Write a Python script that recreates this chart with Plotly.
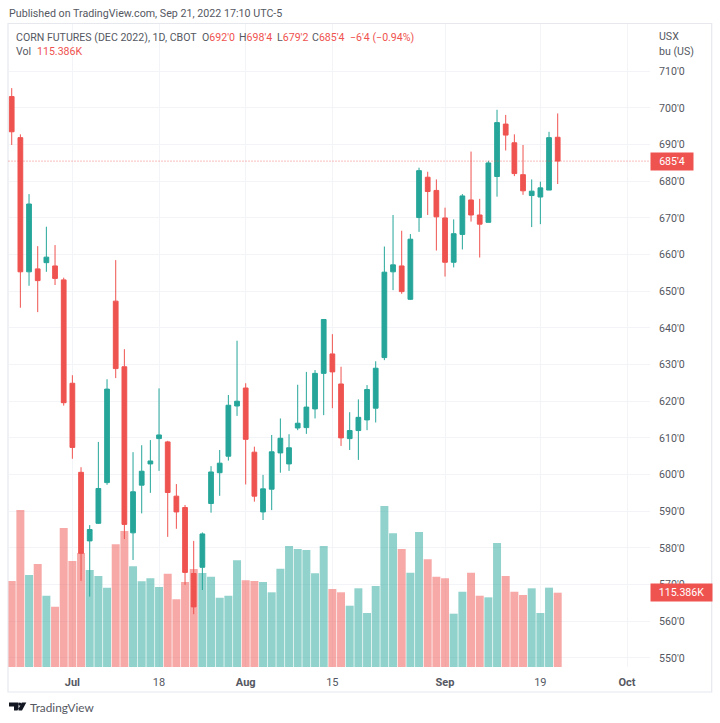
import plotly.graph_objects as go

W, H = 720, 723

trading_days = [
    "2022-06-22","2022-06-23","2022-06-24","2022-06-27","2022-06-28","2022-06-29","2022-06-30",
    "2022-07-01","2022-07-05","2022-07-06","2022-07-07","2022-07-08","2022-07-11","2022-07-12",
    "2022-07-13","2022-07-14","2022-07-15","2022-07-18","2022-07-19","2022-07-20","2022-07-21",
    "2022-07-22","2022-07-25","2022-07-26","2022-07-27","2022-07-28","2022-07-29","2022-08-01",
    "2022-08-02","2022-08-03","2022-08-04","2022-08-05","2022-08-08","2022-08-09","2022-08-10",
    "2022-08-11","2022-08-12","2022-08-15","2022-08-16","2022-08-17","2022-08-18","2022-08-19",
    "2022-08-22","2022-08-23","2022-08-24","2022-08-25","2022-08-26","2022-08-29","2022-08-30",
    "2022-08-31","2022-09-01","2022-09-02","2022-09-06","2022-09-07","2022-09-08","2022-09-09",
    "2022-09-12","2022-09-13","2022-09-14","2022-09-15","2022-09-16","2022-09-19","2022-09-20",
    "2022-09-21",
]
future_days = ["2022-09-22","2022-09-23","2022-09-26","2022-09-27","2022-09-28","2022-09-29",
               "2022-09-30","2022-10-03","2022-10-04","2022-10-05","2022-10-06"]

opens = [703.1,691.9,655.3,656.1,657.8,656.9,653.1,624.9,600.6,581.9,586.7,597.8,647.3,629.4,
         584.1,597.1,602.9,609.8,608.9,594.1,591.0,573.0,574.7,592.1,600.5,605.0,618.7,623.6,
         606.1,589.8,596.0,605.9,602.9,612.7,612.8,617.9,627.6,632.9,624.7,609.8,612.0,614.9,
         618.1,631.9,655.3,656.9,647.8,670.1,681.1,677.5,670.0,657.9,665.5,674.9,670.8,668.8,
         681.3,695.6,690.5,681.8,676.1,675.7,677.6,692.0]
highs = [705.4,692.8,676.5,662.3,667.6,662.6,653.7,627.1,602.0,586.2,608.9,626.0,658.5,634.2,
         606.1,608.0,609.4,623.5,609.2,597.4,591.7,581.9,584.2,602.3,606.7,621.7,636.5,624.9,
         607.6,599.9,610.8,615.3,611.0,624.5,628.0,628.5,642.4,638.3,629.4,617.0,620.5,624.4,
         630.9,662.2,670.8,666.5,665.6,683.7,682.6,680.5,672.8,669.6,676.5,688.1,675.2,685.6,
         699.5,698.1,692.8,689.9,680.5,679.9,693.5,698.5]
lows = [689.9,645.5,651.5,644.3,655.3,651.7,618.8,604.3,571.0,566.7,586.5,597.2,626.3,582.4,
        576.7,589.4,595.0,601.0,583.0,585.2,569.9,561.9,568.5,589.6,594.2,603.8,616.0,597.3,
        592.6,587.6,590.3,600.5,601.0,612.1,611.1,615.3,616.2,618.1,607.8,606.7,604.0,612.1,
        614.2,631.2,650.3,649.3,647.6,666.2,670.8,661.1,654.0,656.5,661.4,669.0,659.2,668.8,
        675.8,688.4,681.4,676.3,667.5,668.3,677.6,679.25]
closes = [693.5,655.3,673.8,652.9,659.3,653.5,619.6,607.4,578.5,585.0,596.2,623.3,628.9,586.4,
          595.3,600.9,603.7,610.8,595.1,589.8,573.3,563.9,583.8,600.7,603.1,618.9,620.0,609.6,
          594.1,596.1,606.2,609.9,607.3,614.0,618.4,627.6,642.3,628.0,610.0,612.0,615.6,623.2,
          629.0,655.2,657.2,649.9,664.2,682.9,677.2,670.3,657.9,665.7,676.0,670.8,668.3,685.0,
          696.0,692.6,682.1,677.4,677.3,678.2,691.9,685.5]
volumes = [133.6,243.8,142.9,160.0,110.7,93.6,215.9,164.6,177.0,150.6,141.3,123.2,190.6,211.2,
           156.4,133.1,137.8,124.2,144.9,105.1,132.0,152.2,146.0,140.2,107.6,110.7,165.7,134.6,
           133.6,132.0,116.0,152.7,187.9,183.3,181.7,145.5,187.9,121.1,116.0,95.2,122.2,83.9,
           125.8,250.0,207.6,183.3,146.4,209.7,167.3,140.2,137.8,82.8,116.9,146.4,110.7,108.2,
           192.6,141.3,116.9,111.8,122.2,83.9,123.2,115.386]

price_ticks = [710,700,690,680,670,660,650,640,630,620,610,600,590,580,570,560,550]
price_tick_labels = ["710'0","700'0","690'0","680'0","670'0","660'0","650'0","640'0","630'0",
                     "620'0","610'0","600'0","590'0","580'0","570'0","560'0","550'0"]
time_ticks = ["2022-07-01","2022-07-18","2022-08-01","2022-08-15","2022-09-01","2022-09-19","2022-10-03"]
time_tick_labels = ["<b>Jul</b>","18","<b>Aug</b>","15","<b>Sep</b>","19","<b>Oct</b>"]

UP, DOWN = "#26a69a", "#ef5350"
GRID, FRAME, TEXT = "#f3f4f8", "#e6e8ee", "#555862"
FONT = "Roboto"
SIZE = 10.6

def px(x):
    return x / W
def py(y):
    return 1 - y / H

vol_colors = ["rgba(38,166,154,0.5)" if c >= o else "rgba(239,83,80,0.5)" for o, c in zip(opens, closes)]

fig = go.Figure()
fig.add_trace(go.Bar(x=trading_days, y=volumes, marker=dict(color=vol_colors, line=dict(width=0)),
                     width=0.92, yaxis="y", xaxis="x", showlegend=False))
fig.add_trace(go.Candlestick(x=trading_days, open=opens, high=highs, low=lows, close=closes,
                             yaxis="y2", xaxis="x", showlegend=False, whiskerwidth=0,
                             increasing=dict(line=dict(color=UP, width=1), fillcolor=UP),
                             decreasing=dict(line=dict(color=DOWN, width=1), fillcolor=DOWN)))

def txt(x, y, s, size=SIZE, color=TEXT, anchor="left", family=FONT):
    return dict(x=px(x), y=py(y), xref="paper", yref="paper", text=s, showarrow=False, xshift=-2,
                xanchor=anchor, yanchor="middle", font=dict(family=family, size=size, color=color))

def red(s):
    return f"<span style='color:{DOWN}'>{s}</span>"

annotations = [
    txt(9, 13.5, "Published on TradingView.com, Sep 21, 2022 17:10 UTC-5", size=10.7),
    txt(16, 37, "CORN FUTURES (DEC 2022), 1D, CBOT"),
    txt(201.5, 37, "O" + red("692'0")),
    txt(239, 37, "H" + red("698'4")),
    txt(276.5, 37, "L" + red("679'2")),
    txt(312, 37, "C" + red("685'4")),
    txt(350, 37, red("−6'4 (−0.94%)")),
    txt(16, 52, "Vol"),
    txt(37, 52, "115.386K", color=DOWN),
    txt(659, 36, "USX"),
    txt(659, 52, "bu (US)"),
    txt(30, 707.5, "TradingView", size=11.8, family="Lato"),
    dict(x=px(650), y=closes[-1], xref="paper", yref="y2", text="685'4", showarrow=False,
         xanchor="left", yanchor="middle", bgcolor=DOWN, width=40, height=15, align="center",
         font=dict(family=FONT, size=SIZE, color="#ffffff")),
    dict(x=px(650), y=volumes[-1], xref="paper", yref="y", text="115.386K", showarrow=False,
         xanchor="left", yanchor="middle", bgcolor=DOWN, width=59, height=15, align="center",
         font=dict(family=FONT, size=SIZE, color="#ffffff")),
]

def logo_path():
    pts = [(9,702.5),(18.5,702.5),(18.5,710.5),(14,710.5),(14,706.5),(9,706.5)]
    p1 = "M " + " L ".join(f"{px(a)},{py(b)}" for a, b in pts) + " Z"
    pts2 = [(21.8,702.5),(26.3,702.5),(22,710.5),(17.5,710.5)]
    p2 = "M " + " L ".join(f"{px(a)},{py(b)}" for a, b in pts2) + " Z"
    return p1 + " " + p2

shapes = [
    dict(type="rect", xref="paper", yref="paper", x0=px(8), x1=px(711.7), y0=py(692), y1=py(23.5),
         line=dict(color=FRAME, width=1.2), fillcolor="rgba(0,0,0,0)", layer="below"),
    dict(type="line", xref="paper", yref="y2", x0=px(8.5), x1=px(650), y0=closes[-1], y1=closes[-1],
         line=dict(color="rgba(239,83,80,0.75)", width=1, dash="1px,2px")),
    dict(type="path", xref="paper", yref="paper", path=logo_path(), fillcolor="#131722", line=dict(width=0)),
    dict(type="circle", xref="paper", yref="paper", x0=px(18.2), x1=px(21.4), y0=py(705.7), y1=py(702.5),
         fillcolor="#131722", line=dict(width=0)),
]

fig.update_layout(
    width=W, height=H, margin=dict(l=0, r=0, t=0, b=0), autosize=False,
    paper_bgcolor="#ffffff", plot_bgcolor="#ffffff", barmode="overlay", showlegend=False, boxgap=0.22,
    font=dict(family=FONT, size=SIZE, color=TEXT),
    annotations=annotations, shapes=shapes,
    xaxis=dict(domain=[px(8.5), px(650)], type="category", categoryorder="array",
               categoryarray=trading_days + future_days, range=[-0.37, 73.65],
               tickmode="array", tickvals=time_ticks, ticktext=time_tick_labels,
               showgrid=True, gridcolor=GRID, gridwidth=1, zeroline=False, showline=False,
               ticks="outside", ticklen=5, tickcolor="rgba(0,0,0,0)",
               tickfont=dict(family=FONT, size=11, color=TEXT), rangeslider=dict(visible=False),
               automargin=False, tickangle=0),
    yaxis=dict(domain=[py(667), py(24)], range=[0, 998.6], visible=False, showgrid=False, fixedrange=True),
    yaxis2=dict(overlaying="y", side="right", anchor="x", range=[547.5, 722.9],
                tickmode="array", tickvals=price_ticks, ticktext=price_tick_labels,
                showgrid=True, gridcolor=GRID, gridwidth=1, zeroline=False, showline=False,
                ticks="outside", ticklen=6, tickcolor="rgba(0,0,0,0)",
                tickfont=dict(family=FONT, size=10.6, color=TEXT), automargin=False),
)

fig.write_html("out.html", config={"displayModeBar": False}, post_script="document.body.style.margin='0';")
